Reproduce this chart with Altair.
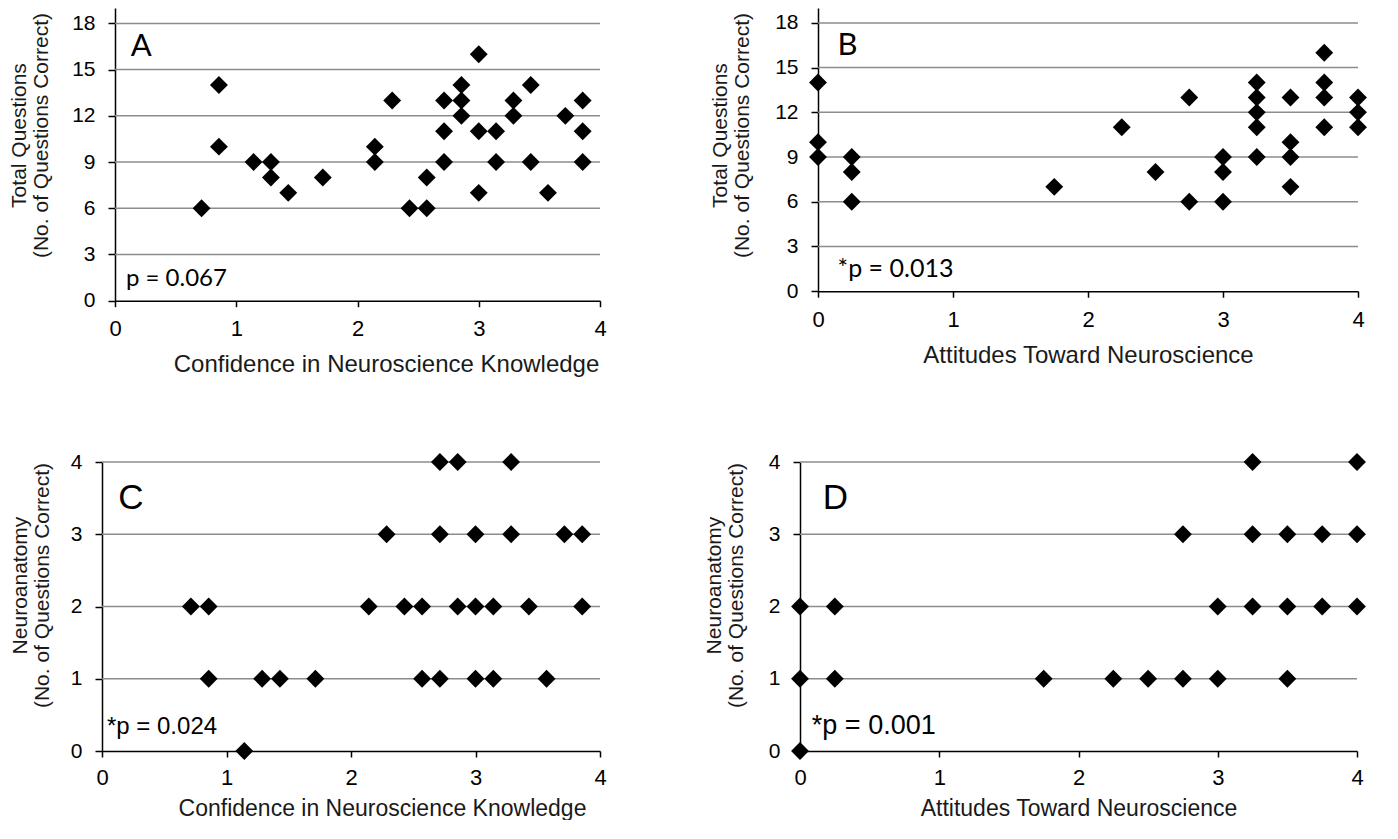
import altair as alt
import pandas as pd

# ---------------- data ----------------
# Panel A: confidence vs total questions correct
A_x = [0.714, 0.857, 0.857, 1.143, 1.286, 1.286, 1.429, 1.714, 2.143, 2.143,
       2.286, 2.429, 2.571, 2.571, 2.714, 2.714, 2.714, 2.857, 2.857, 2.857,
       3.0, 3.0, 3.0, 3.143, 3.143, 3.286, 3.286, 3.429, 3.429, 3.571,
       3.714, 3.857, 3.857, 3.857]
A_y = [6, 14, 10, 9, 9, 8, 7, 8, 10, 9,
       13, 6, 6, 8, 13, 11, 9, 14, 13, 12,
       16, 11, 7, 11, 9, 13, 12, 14, 9, 7,
       12, 13, 11, 9]

# Panel B: attitudes vs total questions correct
B_x = [0, 0, 0, 0.25, 0.25, 0.25, 1.75, 2.25, 2.5, 2.75, 2.75,
       3.0, 3.0, 3.0, 3.25, 3.25, 3.25, 3.25, 3.25, 3.5, 3.5, 3.5, 3.5,
       3.75, 3.75, 3.75, 3.75, 4.0, 4.0, 4.0]
B_y = [14, 10, 9, 9, 8, 6, 7, 11, 8, 13, 6,
       9, 8, 6, 14, 13, 12, 11, 9, 13, 10, 9, 7,
       16, 14, 13, 11, 13, 12, 11]

# Panel C: confidence vs neuroanatomy correct
C_x = [2.714, 2.857, 3.286,
       2.286, 2.714, 3.0, 3.286, 3.714, 3.857,
       0.714, 0.857, 2.143, 2.429, 2.571, 2.857, 3.0, 3.143, 3.429, 3.857,
       0.857, 1.286, 1.429, 1.714, 2.571, 2.714, 3.0, 3.143, 3.571,
       1.143]
C_y = [4, 4, 4,
       3, 3, 3, 3, 3, 3,
       2, 2, 2, 2, 2, 2, 2, 2, 2, 2,
       1, 1, 1, 1, 1, 1, 1, 1, 1,
       0]

# Panel D: attitudes vs neuroanatomy correct
D_x = [3.25, 4.0,
       2.75, 3.25, 3.5, 3.75, 4.0,
       0, 0.25, 3.0, 3.25, 3.5, 3.75, 4.0,
       0, 0.25, 1.75, 2.25, 2.5, 2.75, 3.0, 3.5,
       0]
D_y = [4, 4,
       3, 3, 3, 3, 3,
       2, 2, 2, 2, 2, 2, 2,
       1, 1, 1, 1, 1, 1, 1, 1,
       0]

X_TICKS = [0, 1, 2, 3, 4]
Y_TICKS_TOTAL = [0, 3, 6, 9, 12, 15, 18]
Y_TICKS_ANAT = [0, 1, 2, 3, 4]

X_TITLE_CONF = "Confidence in Neuroscience Knowledge"
X_TITLE_ATT = "Attitudes Toward Neuroscience"
Y_TITLE_TOTAL = ["Total Questions", "(No. of Questions Correct)"]
Y_TITLE_ANAT = ["Neuroanatomy", "(No. of Questions Correct)"]

LETTERS = ["A", "B", "C", "D"]
P_TEXTS = ["p = 0.067", "*p = 0.013", "*p = 0.024", "*p = 0.001"]

ARIAL = "Liberation Sans"
CALIBRI = "Lato"
GRID = "#8c8c8c"


def panel(xs, ys, xtitle, ytitle, ydom, yticks, w, h, inset, letter, ptext,
          letter_xy, p_xy, tick_font, ytick_size, xtick_size, note_font,
          letter_size, p_size, y_title_pad, y_title_y, x_title_size, x_label_pad,
          x_title_pad, x_title_x=None):
    df = pd.DataFrame({"x": xs, "y": ys})
    gdf = pd.DataFrame({"y": yticks[1:], "x": [X_TICKS[0]] * (len(yticks) - 1),
                        "x2": [X_TICKS[-1]] * (len(yticks) - 1)})
    xaxis_kwargs = dict(values=X_TICKS, grid=False, tickSize=6, labelPadding=x_label_pad,
                        labelFontSize=xtick_size, labelFont=tick_font,
                        labelFlush=False, titleFontSize=x_title_size, titleFont=ARIAL,
                        titlePadding=x_title_pad, format="d")
    if x_title_x is not None:
        xaxis_kwargs["titleX"] = x_title_x
    xscale = alt.Scale(domain=[0, 4], range=[inset, w], nice=False, zero=False)
    yscale = alt.Scale(domain=ydom, nice=False, zero=False)
    x = alt.X("x:Q", scale=xscale, title=xtitle, axis=alt.Axis(**xaxis_kwargs))
    y = alt.Y("y:Q", scale=yscale, title=ytitle,
              axis=alt.Axis(values=yticks, grid=False, tickSize=7, labelPadding=13,
                            labelFontSize=ytick_size, labelFont=tick_font,
                            labelFlush=False, titleFontSize=21, titleFont=ARIAL,
                            titleLineHeight=22, titlePadding=y_title_pad,
                            titleY=y_title_y, offset=-inset, format="d"))
    grid = alt.Chart(gdf).mark_rule(color=GRID, strokeWidth=1.5).encode(
        x=alt.X("x:Q", scale=xscale, title=xtitle),
        x2="x2:Q",
        y=alt.Y("y:Q", scale=yscale, title=ytitle),
    )
    pts = alt.Chart(df).mark_point(shape="diamond", filled=True, color="black",
                                   opacity=1, size=320, clip=False).encode(x=x, y=y)
    ldf = pd.DataFrame({"x": [letter_xy[0]], "y": [letter_xy[1]], "t": [letter]})
    pdf = pd.DataFrame({"x": [p_xy[0]], "y": [p_xy[1]], "t": [ptext]})
    lt = alt.Chart(ldf).mark_text(align="left", baseline="alphabetic",
                                  font=note_font, fontSize=letter_size,
                                  color="black").encode(
        x=alt.X("x:Q", scale=xscale, title=xtitle),
        y=alt.Y("y:Q", scale=yscale, title=ytitle), text="t:N")
    pt = alt.Chart(pdf).mark_text(align="left", baseline="alphabetic",
                                  font=note_font, fontSize=p_size,
                                  color="black").encode(
        x=alt.X("x:Q", scale=xscale, title=xtitle),
        y=alt.Y("y:Q", scale=yscale, title=ytitle), text="t:N")
    return alt.layer(grid, pts, lt, pt).properties(width=w, height=h)


# column 1 origin is C's y axis; A's axis sits 13px further right
pA = panel(A_x, A_y, X_TITLE_CONF, Y_TITLE_TOTAL, [0, 19], Y_TICKS_TOTAL, 498, 292.7, 13,
           LETTERS[0], P_TEXTS[0], (0.13, 15.9), (0.09, 0.97), ARIAL, 21, 22,
           CALIBRI, 31, 24, 20, 127, 24, 12, 13, x_title_x=284)
pB = panel(B_x, B_y, X_TITLE_ATT, Y_TITLE_TOTAL, [0, 19], Y_TICKS_TOTAL, 558, 283.2, 18,
           LETTERS[1], P_TEXTS[1], (0.145, 15.84), (0.145, 0.96), ARIAL, 21, 22,
           CALIBRI, 31, 25, 22, 127, 24, 12, 13)
pC = panel(C_x, C_y, X_TITLE_CONF, Y_TITLE_ANAT, [0, 4], Y_TICKS_ANAT, 498, 289, 0,
           LETTERS[2], P_TEXTS[2], (0.13, 3.35), (0.04, 0.23), ARIAL, 21, 22,
           ARIAL, 35, 24, 18, 123, 23, 10, 9, x_title_x=280)
pD = panel(D_x, D_y, X_TITLE_ATT, Y_TITLE_ANAT, [0, 4], Y_TICKS_ANAT, 557, 289, 0,
           LETTERS[3], P_TEXTS[3], (0.163, 3.35), (0.085, 0.23), ARIAL, 21, 22,
           ARIAL, 35, 27, 22, 123, 23, 10, 9)

chart = alt.concat(pA, pB, pC, pD, columns=2).properties(
    align={"row": "all", "column": "each"},
    spacing={"row": 74, "column": 96},
    padding={"left": 0, "top": 0, "right": 0, "bottom": 0},
    background="white",
).configure_view(stroke=None).configure_axis(
    domainColor="black", domainWidth=1.5, tickColor="black", tickWidth=1.5,
    labelColor="black", titleColor="#1a1a1a", titleFontWeight="normal",
)

chart.save("out.html", embed_options={"renderer": "svg", "actions": False})
